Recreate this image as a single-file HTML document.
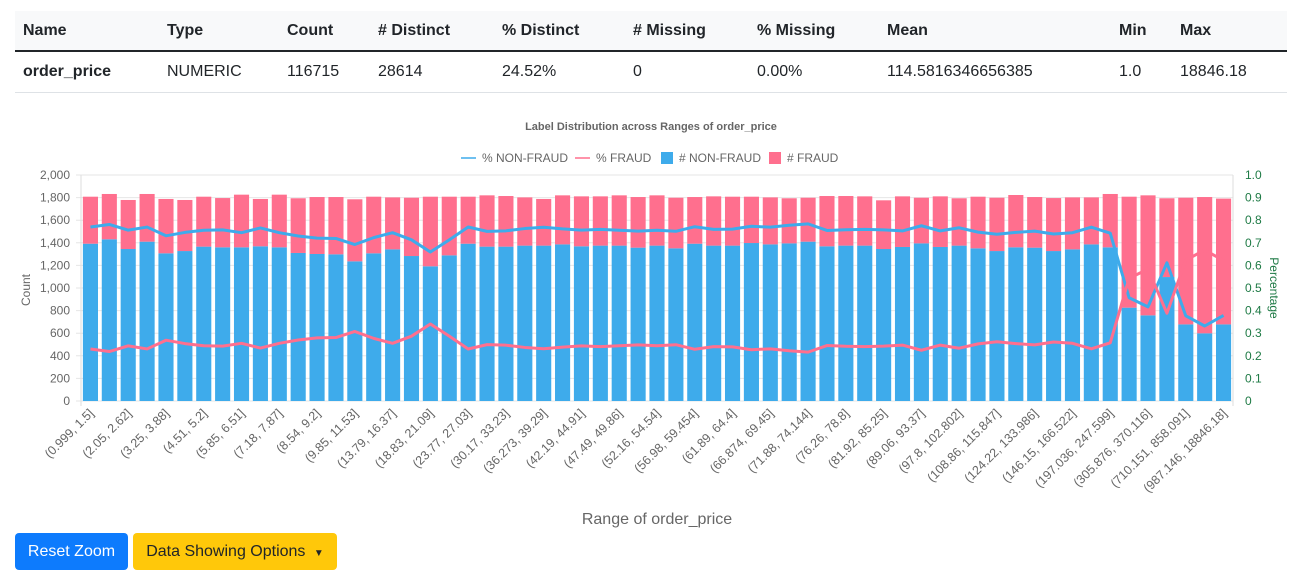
<!DOCTYPE html>
<html><head><meta charset="utf-8">
<style>
body{margin:0;background:#fff;font-family:"Liberation Sans",Arial,sans-serif;width:1293px;height:585px;overflow:hidden;position:relative}
table{position:absolute;left:15px;top:11px;width:1272px;border-collapse:collapse;font-size:16px;color:#212529}
th,td{text-align:left;padding:0;height:40px;position:relative}
thead tr{background:#f8f9fa}
th{font-weight:bold;border-bottom:2px solid #212529}
td{border-bottom:1px solid #dee2e6;height:40px}
.c{position:absolute;top:11px}
.btn{position:absolute;top:533px;height:37px;border-radius:4px;font-size:16px;line-height:37px;text-align:center}
</style></head><body>
<table>
<thead><tr><th style="width:1272px;height:39px">
<span class="c" style="left:8px">Name</span><span class="c" style="left:152px">Type</span><span class="c" style="left:272px">Count</span><span class="c" style="left:363px"># Distinct</span><span class="c" style="left:487px">% Distinct</span><span class="c" style="left:618px"># Missing</span><span class="c" style="left:742px">% Missing</span><span class="c" style="left:872px">Mean</span><span class="c" style="left:1104px">Min</span><span class="c" style="left:1165px">Max</span></th></tr></thead>
<tbody><tr><td style="height:40px">
<span class="c" style="left:8px;font-weight:bold">order_price</span><span class="c" style="left:152px">NUMERIC</span><span class="c" style="left:272px">116715</span><span class="c" style="left:363px">28614</span><span class="c" style="left:487px">24.52%</span><span class="c" style="left:618px">0</span><span class="c" style="left:742px">0.00%</span><span class="c" style="left:872px">114.5816346656385</span><span class="c" style="left:1104px">1.0</span><span class="c" style="left:1165px">18846.18</span></td></tr></tbody>
</table>
<svg id="chart" style="position:absolute;left:0;top:0" width="1293" height="585" font-family="Liberation Sans, Arial, sans-serif"></svg>
<div class="btn" style="left:15px;width:113px;background:#0d7bfd;color:#fff">Reset Zoom</div>
<div class="btn" style="left:133px;width:204px;background:#ffc80a;color:#212529">Data Showing Options <span style="font-size:10px;margin-left:4px">▼</span></div>
<script>
const nonFraud=[1392,1431,1345,1410,1307,1327,1366,1360,1360,1369,1360,1310,1301,1298,1236,1307,1342,1283,1192,1289,1392,1366,1366,1375,1375,1386,1369,1375,1375,1357,1375,1351,1392,1375,1375,1398,1386,1395,1410,1369,1375,1375,1345,1363,1395,1363,1375,1351,1327,1360,1357,1327,1342,1386,1360,826,758,1097,678,599,678];
const totals=[1808,1832,1779,1832,1788,1779,1808,1796,1826,1788,1826,1794,1805,1805,1785,1808,1802,1799,1808,1808,1808,1820,1814,1802,1788,1820,1811,1811,1820,1805,1820,1799,1805,1811,1808,1808,1802,1794,1799,1814,1814,1811,1776,1811,1799,1811,1794,1808,1799,1823,1805,1796,1802,1802,1832,1808,1820,1794,1799,1805,1791];
const fraud=nonFraud.map((v,i)=>totals[i]-v);
const xLabels=["(0.999, 1.5]","(2.05, 2.62]","(3.25, 3.88]","(4.51, 5.2]","(5.85, 6.51]","(7.18, 7.87]","(8.54, 9.2]","(9.85, 11.53]","(13.79, 16.37]","(18.83, 21.09]","(23.77, 27.03]","(30.17, 33.23]","(36.273, 39.29]","(42.19, 44.91]","(47.49, 49.86]","(52.16, 54.54]","(56.98, 59.454]","(61.89, 64.4]","(66.874, 69.45]","(71.88, 74.144]","(76.26, 78.8]","(81.92, 85.25]","(89.06, 93.37]","(97.8, 102.802]","(108.86, 115.847]","(124.22, 133.986]","(146.15, 166.522]","(197.036, 247.599]","(305.876, 370.116]","(710.151, 858.091]","(987.146, 18846.18]"];
const countTicks=[0,200,400,600,800,1000,1200,1400,1600,1800,2000];
const pctTicks=[0,0.1,0.2,0.3,0.4,0.5,0.6,0.7,0.8,0.9,1.0];

const svg=document.getElementById('chart');const NS='http://www.w3.org/2000/svg';
function mk(t,a,txt){const e=document.createElementNS(NS,t);for(const k in a)e.setAttribute(k,a[k]);if(txt!=null)e.textContent=txt;svg.appendChild(e);return e;}
const L=81,R=1233,T=175,B=401,n=nonFraud.length,bw=(R-L)/n;
const yC=v=>B-(v/2000)*(B-T), yP=v=>B-v*(B-T), xC=i=>L+bw*(i+0.5);
countTicks.forEach(v=>{let g=mk('line',{x1:L-5,x2:R,y1:yC(v),y2:yC(v),stroke:'#e6e6e6'});

let t=mk('text',{x:L-11,y:yC(v)+4,'text-anchor':'end','font-size':12,fill:'#666'},v.toLocaleString('en-US'));
});
pctTicks.forEach(v=>{let t=mk('text',{x:R+12,y:yP(v)+4,'font-size':12,fill:'#1e7a45'},v===0?'0':v.toFixed(1));
});
mk('line',{x1:L,x2:L,y1:T,y2:B+5,stroke:'#ddd'});mk('line',{x1:R,x2:R,y1:T,y2:B+5,stroke:'#ddd'});
nonFraud.forEach((v,i)=>{const x=xC(i)-bw*0.4,w=bw*0.8;
let b=mk('rect',{x:x,y:yC(v),width:w,height:B-yC(v),fill:'#3eabeb'});

let f=mk('rect',{x:x,y:yC(v+fraud[i]),width:w,height:yC(v)-yC(v+fraud[i]),fill:'#ff6f8e'});
});
const pN=nonFraud.map((v,i)=>v/(v+fraud[i])), pF=pN.map(p=>1-p);
let l1=mk('polyline',{points:pN.map((p,i)=>xC(i)+','+yP(p)).join(' '),fill:'none',stroke:'#3eabeb','stroke-width':3,'stroke-linejoin':'round'});

let l2=mk('polyline',{points:pF.map((p,i)=>xC(i)+','+yP(p)).join(' '),fill:'none',stroke:'#ff6f8e','stroke-width':3,'stroke-linejoin':'round'});

xLabels.forEach((s,j)=>{const x=xC(j*2)+4,y=B+13;
let t=mk('text',{x:x,y:y,'text-anchor':'end','font-size':12.5,fill:'#666',transform:`rotate(-45 ${x} ${y})`},s);
});
let tt=mk('text',{x:651,y:130,'text-anchor':'middle','font-size':11,'font-weight':'bold',fill:'#666'},'Label Distribution across Ranges of order_price');

let xt=mk('text',{x:657,y:524,'text-anchor':'middle','font-size':16,fill:'#666'},'Range of order_price');

let yt=mk('text',{x:30,y:290,'text-anchor':'middle','font-size':12,fill:'#666',transform:'rotate(-90 30 290)'},'Count');

let y2=mk('text',{x:1270,y:288,'text-anchor':'middle','font-size':12,fill:'#1e7a45',transform:'rotate(90 1270 288)'},'Percentage');

const leg=[['line','#3eabeb','% NON-FRAUD',461],['line','#ff6f8e','% FRAUD',575],['box','#3eabeb','# NON-FRAUD',661],['box','#ff6f8e','# FRAUD',769]];
leg.forEach(([k,c,s,x])=>{
if(k==='line')mk('line',{x1:x,x2:x+15,y1:158,y2:158,stroke:c,'stroke-width':1.5});else mk('rect',{x:x,y:152,width:12,height:12,fill:c});
let t=mk('text',{x:x+(k==='line'?21:18),y:162,'font-size':12,fill:'#666'},s);
});
</script>
</body></html>
